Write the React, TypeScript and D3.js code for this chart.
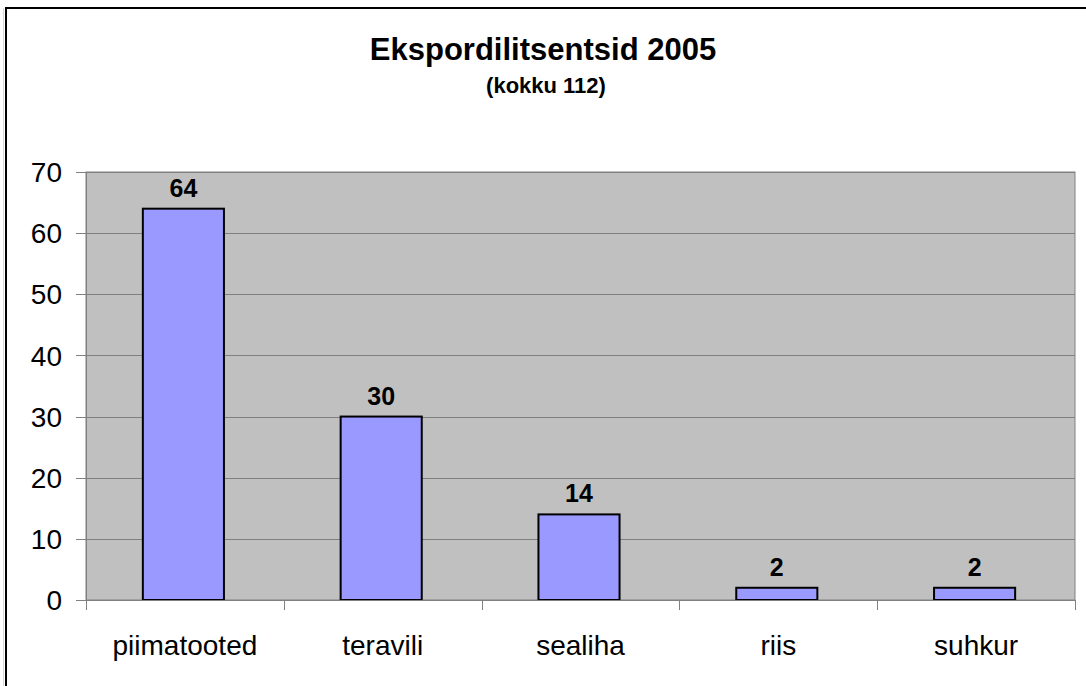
import React, { useEffect, useRef } from 'react';
import * as d3 from 'd3';

const categories = ['piimatooted', 'teravili', 'sealiha', 'riis', 'suhkur'];
const values = [64, 30, 14, 2, 2];
const yTicks = [0, 10, 20, 30, 40, 50, 60, 70];
const titleText = 'Ekspordilitsentsid 2005';
const subtitleText = '(kokku 112)';

const W = 1086;
const H = 686;

const App: React.FC = () => {
  const svgRef = useRef<SVGSVGElement>(null);

  useEffect(() => {
    if (!svgRef.current) return;
    const svg = d3.select(svgRef.current);
    svg.selectAll('*').remove();

    const font = 'Liberation Sans, Arial, sans-serif';
    const plot = { left: 86, right: 1075, top: 172, bottom: 600 };

    svg.append('rect').attr('width', W).attr('height', H).attr('fill', '#fff');

    // outer frame (cropped on right/bottom)
    svg.append('line').attr('x1', 3.5).attr('x2', 3.5).attr('y1', 8).attr('y2', H)
      .attr('stroke', '#d8d8d8').attr('stroke-width', 1);
    svg.append('rect').attr('x', 6).attr('y', 8).attr('width', W + 10).attr('height', H + 10)
      .attr('fill', 'none').attr('stroke', '#000').attr('stroke-width', 2);

    // titles
    svg.append('text').attr('x', 543).attr('y', 60).attr('text-anchor', 'middle')
      .attr('font-family', font).attr('font-weight', 'bold').attr('font-size', 31)
      .text(titleText);
    svg.append('text').attr('x', 546).attr('y', 93).attr('text-anchor', 'middle')
      .attr('font-family', font).attr('font-weight', 'bold').attr('font-size', 22)
      .text(subtitleText);

    const x = d3.scaleBand().domain(categories).range([plot.left, plot.right]);
    const y = d3.scaleLinear().domain([0, 70]).range([plot.bottom, plot.top]);

    // plot area
    svg.append('rect').attr('x', plot.left).attr('y', plot.top)
      .attr('width', plot.right - plot.left).attr('height', plot.bottom - plot.top)
      .attr('fill', '#c0c0c0').attr('stroke', '#808080').attr('stroke-width', 1);

    // gridlines
    svg.append('g').selectAll('line').data(yTicks.filter(t => t > 0)).enter().append('line')
      .attr('x1', plot.left).attr('x2', plot.right)
      .attr('y1', d => Math.round(y(d)) + 0.5).attr('y2', d => Math.round(y(d)) + 0.5)
      .attr('stroke', '#808080').attr('stroke-width', 1);

    // bars
    const barW = x.bandwidth() * 0.41;
    svg.append('g').selectAll('rect').data(values).enter().append('rect')
      .attr('x', (d, i) => (x(categories[i]) || 0) + x.bandwidth() / 2 - barW / 2 - 1.5)
      .attr('y', d => y(d))
      .attr('width', barW)
      .attr('height', d => y(0) - y(d))
      .attr('fill', '#9999ff').attr('stroke', '#000').attr('stroke-width', 2);

    // value labels
    svg.append('g').selectAll('text').data(values).enter().append('text')
      .attr('x', (d, i) => (x(categories[i]) || 0) + x.bandwidth() / 2 - 1.5)
      .attr('y', d => y(d) - 12)
      .attr('text-anchor', 'middle')
      .attr('font-family', font).attr('font-weight', 'bold').attr('font-size', 25)
      .text(d => String(d));

    // y axis
    const yAxis = svg.append('g');
    yAxis.append('line').attr('x1', plot.left + 0.5).attr('x2', plot.left + 0.5)
      .attr('y1', plot.top).attr('y2', plot.bottom).attr('stroke', '#808080');
    yAxis.selectAll('line.tick').data(yTicks).enter().append('line').attr('class', 'tick')
      .attr('x1', plot.left - 10).attr('x2', plot.left)
      .attr('y1', d => Math.round(y(d)) + 0.5).attr('y2', d => Math.round(y(d)) + 0.5)
      .attr('stroke', '#808080');
    yAxis.selectAll('text').data(yTicks).enter().append('text')
      .attr('x', 62).attr('y', d => y(d)).attr('dy', '0.36em')
      .attr('text-anchor', 'end')
      .attr('font-family', font).attr('font-size', 28)
      .text(d => String(d));

    // x axis
    const xAxis = svg.append('g');
    xAxis.append('line').attr('x1', plot.left).attr('x2', plot.right)
      .attr('y1', plot.bottom + 0.5).attr('y2', plot.bottom + 0.5).attr('stroke', '#808080');
    const bounds = categories.map(c => x(c) || 0).concat([plot.right]);
    xAxis.selectAll('line.tick').data(bounds).enter().append('line').attr('class', 'tick')
      .attr('x1', d => Math.round(d) + 0.5).attr('x2', d => Math.round(d) + 0.5)
      .attr('y1', plot.bottom).attr('y2', plot.bottom + 10)
      .attr('stroke', '#808080');
    xAxis.selectAll('text').data(categories).enter().append('text')
      .attr('x', d => (x(d) || 0) + x.bandwidth() / 2)
      .attr('y', 655)
      .attr('text-anchor', 'middle')
      .attr('font-family', font).attr('font-size', 28)
      .text(d => d);
  }, []);

  return (
    <div style={{ position: 'fixed', left: 0, top: 0 }}>
      <svg ref={svgRef} width={W} height={H} style={{ display: 'block' }} />
    </div>
  );
};

export default App;
